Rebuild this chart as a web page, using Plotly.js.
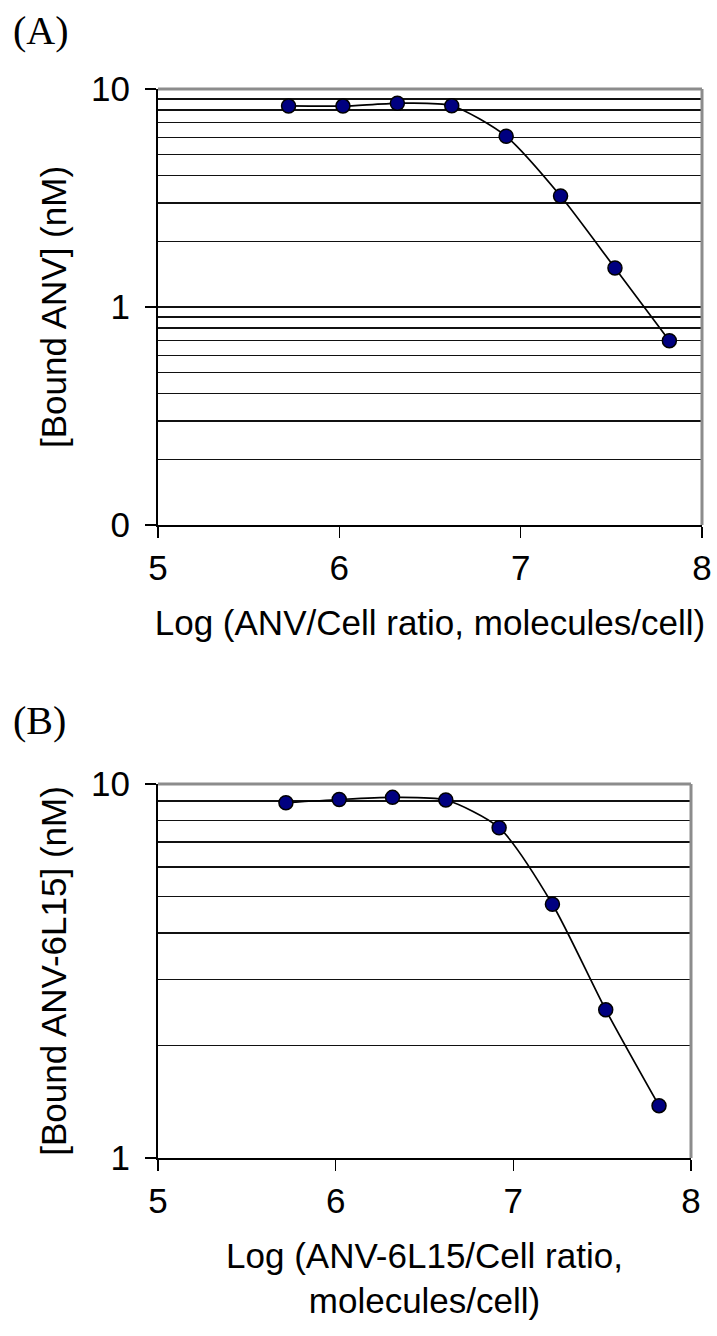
<!DOCTYPE html>
<html>
<head>
<meta charset="utf-8">
<script src="https://cdn.plot.ly/plotly-3.0.1.min.js"></script>
<style>
  html, body { margin: 0; padding: 0; background: #ffffff; }
  #chart { width: 717px; height: 1336px; }
</style>
</head>
<body>
<div id="chart"></div>
<script>
// ---- Data ----
const logRatioA = [5.72, 6.02, 6.32, 6.62, 6.92, 7.22, 7.52, 7.82];
const boundANV  = [8.36, 8.35, 8.60, 8.38, 6.07, 3.23, 1.51, 0.70];

const logRatioB = [5.72, 6.02, 6.32, 6.62, 6.92, 7.22, 7.52, 7.82];
const boundANV6L15 = [8.91, 9.09, 9.21, 9.06, 7.64, 4.77, 2.49, 1.38];

const xTickVals = [5, 6, 7, 8];
const xTickText = ['5', '6', '7', '8'];
const yTickValsA = [0.1, 1, 10];
const yTickTextA = ['0', '1', '10'];
const yTickValsB = [1, 10];
const yTickTextB = ['1', '10'];
const gridValsA = [0.2, 0.3, 0.4, 0.5, 0.6, 0.7, 0.8, 0.9, 2, 3, 4, 5, 6, 7, 8, 9];
const gridValsB = [2, 3, 4, 5, 6, 7, 8, 9];

const titleXA = 'Log (ANV/Cell ratio, molecules/cell)';
const titleYA = '[Bound ANV] (nM)';
const titleXB = 'Log (ANV-6L15/Cell ratio,<br>molecules/cell)';
const titleYB = '[Bound ANV-6L15] (nM)';

// ---- Styling ----
const W = 717, H = 1336;
const FONT = 'Liberation Sans, Arial, sans-serif';
const fnt = {family: FONT, size: 35, color: '#000'};

function xa(px) { return px / W; }
function ya(py) { return 1 - py / H; }

function seriesTrace(x, y, xaxis, yaxis) {
  return {
    x: x, y: y, xaxis: xaxis, yaxis: yaxis,
    type: 'scatter', mode: 'lines+markers',
    line: {color: '#000', width: 1.7, shape: 'spline', smoothing: 0.7},
    marker: {color: '#000080', size: 14, line: {color: '#000', width: 1.5}},
    showlegend: false, hoverinfo: 'x+y'
  };
}

function xAxis(domain, anchor, title) {
  return {
    domain: domain, anchor: anchor, range: [5, 8],
    tickmode: 'array', tickvals: xTickVals, ticktext: xTickText,
    ticks: 'outside', ticklen: 11, tickwidth: 1.5, tickcolor: '#000',
    ticklabelstandoff: 0,
    showgrid: false, zeroline: false,
    showline: true, linecolor: '#000', linewidth: 2,
    tickfont: fnt,
    title: {text: title, font: fnt, standoff: 24},
    automargin: false, fixedrange: true
  };
}

function yAxis(domain, anchor, range, tv, tt, grid, title) {
  return {
    domain: domain, anchor: anchor, type: 'log', range: range,
    tickmode: 'array', tickvals: tv, ticktext: tt,
    ticks: 'outside', ticklen: 11, tickwidth: 1.5, tickcolor: '#000',
    ticklabelstandoff: 8,
    showgrid: true, gridcolor: '#111', gridwidth: 1.4,
    minor: {tickmode: 'array', tickvals: grid, showgrid: true, gridcolor: '#111', gridwidth: 1.4, ticks: ''},
    zeroline: false,
    showline: true, linecolor: '#000', linewidth: 2,
    tickfont: fnt,
    title: {text: title, font: fnt, standoff: 14},
    automargin: false, fixedrange: true
  };
}

function frame(xr, yr) {
  return [
    {type: 'line', xref: xr, yref: yr, x0: 0, x1: 1, y0: 1, y1: 1, line: {color: '#8c8c8c', width: 3}},
    {type: 'line', xref: xr, yref: yr, x0: 1, x1: 1, y0: 0, y1: 1, line: {color: '#8c8c8c', width: 3}}
  ];
}

const data = [
  seriesTrace(logRatioA, boundANV, 'x', 'y'),
  seriesTrace(logRatioB, boundANV6L15, 'x2', 'y2')
];

const layout = {
  width: W, height: H,
  margin: {l: 0, r: 0, t: 0, b: 0},
  paper_bgcolor: '#fff', plot_bgcolor: '#fff',
  showlegend: false,
  xaxis: xAxis([xa(158), xa(702)], 'y', titleXA),
  yaxis: yAxis([ya(525), ya(89)], 'x', [-1, 1], yTickValsA, yTickTextA, gridValsA, titleYA),
  xaxis2: xAxis([xa(158), xa(691)], 'y2', titleXB),
  yaxis2: yAxis([ya(1158), ya(784)], 'x2', [0, 1], yTickValsB, yTickTextB, gridValsB, titleYB),
  shapes: frame('x domain', 'y domain').concat(frame('x2 domain', 'y2 domain')),
  annotations: [
    {text: '(A)', xref: 'paper', yref: 'paper', x: xa(11), y: ya(31), xanchor: 'left', yanchor: 'middle',
     showarrow: false, font: {family: 'Liberation Serif, Times New Roman, serif', size: 40, color: '#000'}},
    {text: '(B)', xref: 'paper', yref: 'paper', x: xa(11), y: ya(720), xanchor: 'left', yanchor: 'middle',
     showarrow: false, font: {family: 'Liberation Serif, Times New Roman, serif', size: 40, color: '#000'}}
  ]
};

Plotly.newPlot('chart', data, layout, {displayModeBar: false, staticPlot: true});
</script>
</body>
</html>
